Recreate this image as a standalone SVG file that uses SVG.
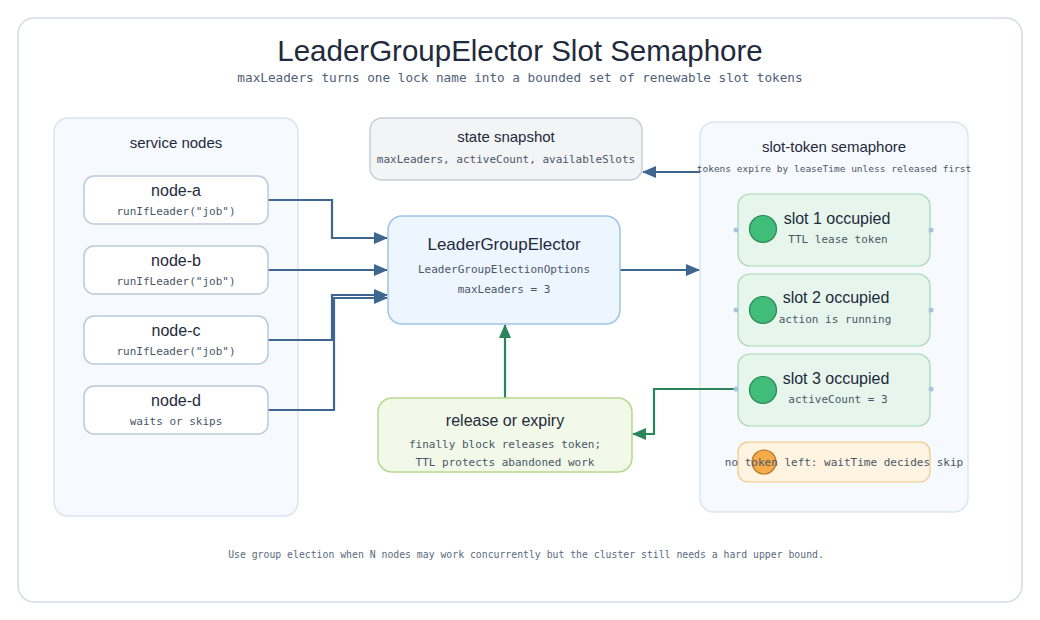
<svg xmlns="http://www.w3.org/2000/svg" width="1040" height="620" viewBox="0 0 1040 620">
<defs>
<style>
.hand{font-family:"Liberation Sans","Noto Sans",sans-serif;fill:#1f2a3c;text-anchor:middle;}
.mono{font-family:"DejaVu Sans Mono","Liberation Mono",monospace;fill:#4a5668;text-anchor:middle;font-size:11px;}
.group{fill:#f6f9fe;stroke:#dbe5f1;stroke-width:1.5;}
.node{fill:#ffffff;stroke:#b9c9da;stroke-width:1.5;}
.slot{fill:#e7f6ec;stroke:#a3d6b3;stroke-width:1.2;}
.tok{fill:#3fbd79;stroke:#2b8753;stroke-width:1.2;}
.port{fill:#a9c3de;}
.blue{fill:none;stroke:#3e668f;stroke-width:2.2;}
.green{fill:none;stroke:#2a855a;stroke-width:2.2;}
</style>
<marker id="ab" viewBox="0 0 14 12" refX="13" refY="6" markerWidth="14" markerHeight="12" orient="auto" markerUnits="userSpaceOnUse"><path d="M0,0 L14,6 L0,12 z" fill="#3e668f"/></marker>
<marker id="ag" viewBox="0 0 14 12" refX="13" refY="6" markerWidth="14" markerHeight="12" orient="auto" markerUnits="userSpaceOnUse"><path d="M0,0 L14,6 L0,12 z" fill="#2a855a"/></marker>
</defs>
<rect x="0" y="0" width="1040" height="620" fill="#ffffff"/>
<rect id="frame" x="18" y="18" width="1004" height="584" rx="16" fill="#ffffff" stroke="#d3dbe5" stroke-width="1.5"/>
<text class="hand" x="520" y="61" font-size="29.5">LeaderGroupElector Slot Semaphore</text>
<text class="mono" x="520" y="82" style="font-size:12.7px;fill:#506078">maxLeaders turns one lock name into a bounded set of renewable slot tokens</text>

<g id="service-nodes">
<rect class="group" x="54" y="118" width="244" height="398" rx="14"/>
<text class="hand" x="176" y="148" font-size="15">service nodes</text>
</g>
<g id="slot-semaphore">
<rect class="group" x="700" y="122" width="268" height="390" rx="14"/>
<text class="hand" x="834" y="152" font-size="15">slot-token semaphore</text>
<text class="mono" x="834" y="172" style="font-size:9.5px">tokens expire by leaseTime unless released first</text>
</g>

<g id="connectors">
<path class="blue" d="M268,200 H332 V238 H387" marker-end="url(#ab)"/>
<path class="blue" d="M268,270 H387" marker-end="url(#ab)"/>
<path class="blue" d="M268,340 H332 V295 H387" marker-end="url(#ab)"/>
<path class="blue" d="M268,410 H334 V298 H387" marker-end="url(#ab)"/>
<path class="blue" d="M700,172 H643" marker-end="url(#ab)"/>
<path class="blue" d="M620,270 H699" marker-end="url(#ab)"/>
<path class="green" d="M505,398 V325" marker-end="url(#ag)"/>
<path class="green" d="M738,389 H654 V434 H633" marker-end="url(#ag)"/>
</g>

<g id="node-a">
<rect class="node" x="84" y="176" width="184" height="48" rx="10"/>
<text class="hand" x="176" y="196" font-size="16">node-a</text>
<text class="mono" x="176" y="215">runIfLeader("job")</text>
</g>
<g id="node-b">
<rect class="node" x="84" y="246" width="184" height="48" rx="10"/>
<text class="hand" x="176" y="266" font-size="16">node-b</text>
<text class="mono" x="176" y="285">runIfLeader("job")</text>
</g>
<g id="node-c">
<rect class="node" x="84" y="316" width="184" height="48" rx="10"/>
<text class="hand" x="176" y="336" font-size="16">node-c</text>
<text class="mono" x="176" y="355">runIfLeader("job")</text>
</g>
<g id="node-d">
<rect class="node" x="84" y="386" width="184" height="48" rx="10"/>
<text class="hand" x="176" y="406" font-size="16">node-d</text>
<text class="mono" x="176" y="425">waits or skips</text>
</g>

<g id="state-snapshot">
<rect x="370" y="118" width="272" height="62" rx="12" fill="#f3f4f6" stroke="#c8ced6" stroke-width="1.5"/>
<text class="hand" x="506" y="142" font-size="15">state snapshot</text>
<text class="mono" x="506" y="163">maxLeaders, activeCount, availableSlots</text>
</g>

<g id="elector">
<rect x="388" y="216" width="232" height="108" rx="14" fill="#edf5fe" stroke="#9dc3ea" stroke-width="1.5"/>
<text class="hand" x="504" y="250" font-size="17">LeaderGroupElector</text>
<text class="mono" x="504" y="273">LeaderGroupElectionOptions</text>
<text class="mono" x="504" y="293">maxLeaders = 3</text>
</g>

<g id="release">
<rect x="378" y="398" width="254" height="74" rx="14" fill="#f2f9e9" stroke="#b6d88d" stroke-width="1.5"/>
<text class="hand" x="505" y="426" font-size="16">release or expiry</text>
<text class="mono" x="505" y="448">finally block releases token;</text>
<text class="mono" x="505" y="466">TTL protects abandoned work</text>
</g>

<g id="slot-1">
<rect class="slot" x="738" y="194" width="192" height="72" rx="12"/>
<circle class="port" cx="736" cy="230" r="2.5"/><circle class="port" cx="931" cy="230" r="2.5"/>
<circle class="tok" cx="763" cy="229" r="13.5"/>
<text class="hand" x="837" y="224" font-size="16">slot 1 occupied</text>
<text class="mono" x="838" y="243">TTL lease token</text>
</g>
<g id="slot-2">
<rect class="slot" x="738" y="274" width="192" height="72" rx="12"/>
<circle class="port" cx="736" cy="310" r="2.5"/><circle class="port" cx="931" cy="310" r="2.5"/>
<circle class="tok" cx="763" cy="310" r="13.5"/>
<text class="hand" x="836" y="303" font-size="16">slot 2 occupied</text>
<text class="mono" x="835" y="323">action is running</text>
</g>
<g id="slot-3">
<rect class="slot" x="738" y="354" width="192" height="72" rx="12"/>
<circle class="port" cx="736" cy="389" r="2.5"/><circle class="port" cx="931" cy="389" r="2.5"/>
<circle class="tok" cx="763" cy="390" r="13.5"/>
<text class="hand" x="836" y="384" font-size="16">slot 3 occupied</text>
<text class="mono" x="838" y="403">activeCount = 3</text>
</g>
<g id="no-token">
<rect x="738" y="442" width="192" height="40" rx="10" fill="#fff4e1" stroke="#efc57e" stroke-width="1.2"/>
<circle cx="764" cy="462" r="12" fill="#f4ac48" stroke="#b57424" stroke-width="1.2"/>
<text class="mono" x="844" y="466">no token left: waitTime decides skip</text>
</g>

<text class="mono" x="526" y="558" style="font-size:9.8px;fill:#5a6a80">Use group election when N nodes may work concurrently but the cluster still needs a hard upper bound.</text>
</svg>
